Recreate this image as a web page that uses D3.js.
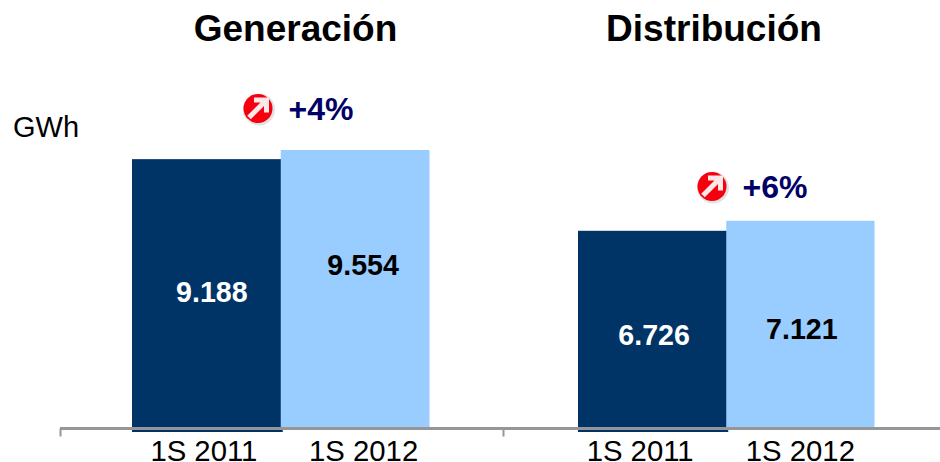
<!DOCTYPE html>
<html><head><meta charset="utf-8">
<script src="https://cdn.jsdelivr.net/npm/d3@7/dist/d3.min.js"></script>
<style>html,body{margin:0;padding:0;background:#fff}svg{display:block}text{font-family:"Liberation Sans",Arial,sans-serif}</style>
</head><body><svg id="c" width="940" height="462"></svg>
<script>
const panels=["Generación","Distribución"];
const periods=["1S 2011","1S 2012"];
const generacion=[9188,9554];
const distribucion=[6726,7121];
const valueLabels=[["9.188","9.554"],["6.726","7.121"]];
const growth=["+4%","+6%"];
const unit="GWh";

const svg=d3.select("#c");
const y=d3.scaleLinear().domain([0,9554]).range([428,150]);
const bx=[d3.scaleBand().domain(periods).range([132,429.5]),
          d3.scaleBand().domain(periods).range([578,874.5])];
const colors=["#003366","#99CCFF"];
const labelColors=["#ffffff","#000000"];
const labelY=[[302,275],[345,339]];
const labelXOff=[[5.5,8],[2,1.5]];
const catXOff=[[-2.5,8.5],[-12,0]];
const all=[generacion,distribucion];

panels.forEach((p,i)=>{
  const vals=all[i];
  svg.append("text").attr("x",[295.5,714][i]).attr("y",41).attr("text-anchor","middle")
    .attr("font-size",37).attr("font-weight","bold").attr("fill","#000").text(p);
  const g=svg.append("g");
  g.selectAll("rect").data(periods).join("rect")
    .attr("x",d=>bx[i](d))
    .attr("width",(d,j)=>bx[i].bandwidth()+(j===0?2:0))
    .attr("y",(d,j)=>y(vals[j])-(j===0?1.5:0))
    .attr("height",(d,j)=>y(0)-y(vals[j])+(j===0?5.5:0))
    .attr("fill",(d,j)=>colors[j]);
  g.selectAll("text.v").data(periods).join("text").attr("class","v")
    .attr("x",(d,j)=>bx[i](d)+bx[i].bandwidth()/2+labelXOff[i][j]).attr("y",(d,j)=>labelY[i][j])
    .attr("text-anchor","middle").attr("font-size",28.6).attr("font-weight","bold")
    .attr("fill",(d,j)=>labelColors[j]).text((d,j)=>valueLabels[i][j]);
  g.selectAll("text.c").data(periods).join("text").attr("class","c")
    .attr("x",(d,j)=>bx[i](d)+bx[i].bandwidth()/2+catXOff[i][j]).attr("y",461)
    .attr("text-anchor","middle").attr("font-size",29.3).attr("fill","#000").text(d=>d);
  const ix=[258,712][i], iy=[108.5,186.5][i];
  const ic=svg.append("g").attr("transform",`translate(${ix},${iy})`);
  ic.append("circle").attr("cx",1).attr("cy",1).attr("r",16).attr("fill","#e2e2e2");
  ic.append("circle").attr("r",14.5).attr("fill","#f60010");
  ic.append("path").attr("d","M-9,9L6,-6M-4,-8.5H8.5V4").attr("fill","none").attr("stroke","#fde8e8").attr("stroke-width",5);
  svg.append("text").attr("x",[321,775][i]).attr("y",[120,198][i]).attr("text-anchor","middle")
    .attr("font-size",32).attr("font-weight","bold").attr("fill","#000066").text(growth[i]);
});
svg.append("text").attr("x",13).attr("y",137).attr("font-size",29).attr("fill","#000").text(unit);
const ax=svg.append("g").attr("transform","translate(0,428.5)");
ax.append("line").attr("x1",60).attr("x2",940).attr("stroke","#969696").attr("stroke-width",3);
[60.5,503.5].forEach(x=>ax.append("line").attr("x1",x).attr("x2",x).attr("y1",0).attr("y2",8).attr("stroke","#969696").attr("stroke-width",2));
</script></body></html>
